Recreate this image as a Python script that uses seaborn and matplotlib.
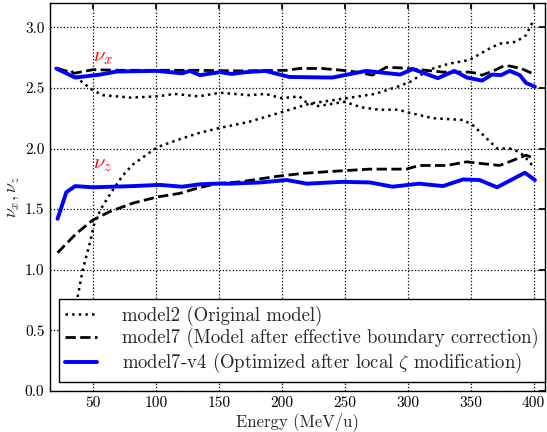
import numpy as np
import pandas as pd
import seaborn as sns
import matplotlib
matplotlib.use("Agg")
import matplotlib.pyplot as plt

# ---------------- data ----------------
m2x_E = [33, 40, 50, 58, 80, 101, 115, 134, 151, 174, 187, 200, 214, 219, 229,
         250, 263, 277, 293, 299, 320, 344, 352, 363, 371, 381, 389, 394, 399]
m2x_v = [2.64, 2.56, 2.48, 2.44, 2.42, 2.43, 2.45, 2.43, 2.46, 2.44, 2.45, 2.415,
         2.43, 2.385, 2.35, 2.385, 2.34, 2.32, 2.32, 2.30, 2.25, 2.235, 2.19, 2.08,
         2.00, 2.00, 1.97, 1.92, 1.86]

m2z_E = [34, 38, 42, 47.6, 51.6, 58, 66, 74, 82, 101, 117, 135, 151, 174, 200,
         222, 248, 274, 292, 302, 317, 333, 349, 365, 373, 386, 394, 399]
m2z_v = [0.45, 0.78, 1.00, 1.22, 1.40, 1.53, 1.66, 1.78, 1.87, 2.01, 2.07, 2.13,
         2.17, 2.22, 2.30, 2.37, 2.41, 2.45, 2.51, 2.55, 2.65, 2.70, 2.73, 2.825,
         2.865, 2.88, 2.935, 3.04]

m7x_E = [22, 35, 50, 70, 100, 130, 167, 204, 214, 232, 248, 260, 272, 283, 294,
         310, 328, 336, 349, 355, 359, 368, 376, 381, 390, 401]
m7x_v = [2.66, 2.62, 2.65, 2.645, 2.645, 2.645, 2.64, 2.645, 2.66, 2.66, 2.645,
         2.63, 2.605, 2.67, 2.665, 2.65, 2.63, 2.63, 2.63, 2.62, 2.605, 2.64,
         2.68, 2.68, 2.66, 2.61]

m7z_E = [22, 37, 50, 63.5, 82, 101, 119, 132, 148, 167, 196, 217, 238, 270, 299,
         309, 331, 347, 355, 373, 383, 394, 400]
m7z_v = [1.14, 1.30, 1.41, 1.48, 1.55, 1.60, 1.63, 1.67, 1.71, 1.725, 1.77, 1.795,
         1.81, 1.83, 1.83, 1.86, 1.86, 1.89, 1.88, 1.86, 1.90, 1.945, 1.92]

v4x_E = [21, 36, 56, 69, 101, 121, 127, 135, 151, 160, 172, 187, 206, 240, 267,
         294, 304, 324, 337, 347, 359, 367, 374, 381, 389, 394, 401]
v4x_v = [2.66, 2.585, 2.61, 2.635, 2.64, 2.62, 2.64, 2.605, 2.63, 2.615, 2.63,
         2.64, 2.59, 2.585, 2.64, 2.61, 2.655, 2.58, 2.64, 2.585, 2.56, 2.61,
         2.605, 2.64, 2.605, 2.54, 2.51]

v4z_E = [22, 29, 36, 50, 82, 103, 121, 135, 148, 159, 183, 204, 220, 248, 270,
         288, 309, 328, 344, 357, 371, 382, 393, 401]
v4z_v = [1.42, 1.64, 1.69, 1.68, 1.69, 1.70, 1.685, 1.705, 1.71, 1.71, 1.72, 1.74,
         1.71, 1.725, 1.72, 1.685, 1.71, 1.69, 1.745, 1.74, 1.68, 1.74, 1.80, 1.74]

labels = ["model2 (Original model)",
          "model7 (Model after effective boundary correction)",
          r"model7-v4 (Optimized after local $\zeta$ modification)"]
xticks = [50, 100, 150, 200, 250, 300, 350, 400]
yticks = [0.0, 0.5, 1.0, 1.5, 2.0, 2.5, 3.0]

# ---------------- style ----------------
sns.set_theme(style="white")
plt.rcParams.update({
    "font.family": ["cmr10", "DejaVu Serif"],
    "mathtext.fontset": "cm",
    "axes.formatter.use_mathtext": True,
    "axes.edgecolor": "black",
    "axes.linewidth": 1.0,
    "xtick.direction": "in",
    "ytick.direction": "in",
    "xtick.top": True,
    "ytick.right": True,
    "xtick.major.size": 4,
    "ytick.major.size": 4,
    "xtick.color": "black",
    "ytick.color": "black",
})

fig = plt.figure(figsize=(5.47, 4.32), dpi=100)
ax = fig.add_axes([50 / 547, 1 - 391 / 432, 495 / 547, 388 / 432])

def draw(E, v, color, ls, lw, label=None):
    df = pd.DataFrame({"E": E, "v": v})
    sns.lineplot(data=df, x="E", y="v", ax=ax, color=color, linestyle=ls,
                 linewidth=lw, sort=False, estimator=None, label=label,
                 legend=False)

draw(m2x_E, m2x_v, "black", ":", 1.8, labels[0])
draw(m2z_E, m2z_v, "black", ":", 1.8)
draw(m7x_E, m7x_v, "black", "--", 2.0, labels[1])
draw(m7z_E, m7z_v, "black", "--", 2.0)
draw(v4x_E, v4x_v, "blue", "-", 2.8, labels[2])
draw(v4z_E, v4z_v, "blue", "-", 2.8)

ax.set_xlim(16, 409)
ax.set_ylim(0, 3.2)
ax.set_xticks(xticks)
ax.set_yticks(yticks)
ax.set_xticklabels([str(t) for t in xticks])
ax.set_yticklabels([f"{t:.1f}" for t in yticks])
ax.tick_params(labelsize=11, pad=4)
ax.grid(True, color="black", linestyle=":", linewidth=0.9)
ax.set_xlabel("Energy (MeV/u)", fontsize=12, labelpad=1)
ax.set_ylabel(r"$\nu_x, \nu_z$", fontsize=13, labelpad=2)

ax.text(50, 2.75, r"$\nu_x$", color="red", fontsize=15, va="center", ha="left")
ax.text(50, 1.86, r"$\nu_z$", color="red", fontsize=15, va="center", ha="left")

handles, labs = ax.get_legend_handles_labels()
leg = ax.legend(handles, labs, loc="lower right", bbox_to_anchor=(1.0, 9 / 388),
                borderaxespad=0, fontsize=13.5, frameon=True, fancybox=False,
                handlelength=1.7, handletextpad=1.3, labelspacing=0.15,
                borderpad=0.35)
leg.get_frame().set_edgecolor("black")
leg.get_frame().set_linewidth(1.0)
leg.get_frame().set_alpha(1.0)

fig.savefig("out.png", dpi=100)
